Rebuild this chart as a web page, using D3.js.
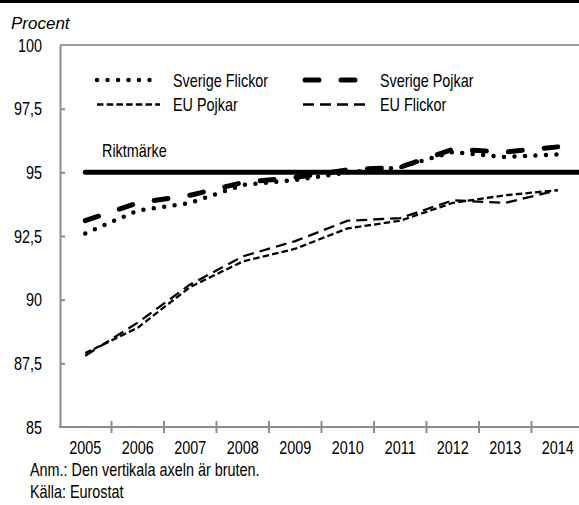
<!DOCTYPE html>
<html lang="sv">
<head>
<meta charset="UTF-8">
<title>Procent</title>
<script src="https://cdn.jsdelivr.net/npm/d3@7/dist/d3.min.js"></script>
<style>
  html, body { margin: 0; padding: 0; background: #fff; }
  svg { display: block; }
  text { font-family: "Liberation Sans", Arial, sans-serif; font-size: 18px; fill: #000; }
</style>
</head>
<body>
<div class="marco"></div>
<script>
// data
const years = [2005, 2006, 2007, 2008, 2009, 2010, 2011, 2012, 2013, 2014];
const sverigeFlickor = [92.6, 93.5, 93.8, 94.5, 94.7, 95.0, 95.2, 95.8, 95.6, 95.7];
const sverigePojkar  = [93.1, 93.8, 94.1, 94.6, 94.8, 95.1, 95.2, 95.9, 95.8, 96.0];
const euPojkar       = [87.9, 88.9, 90.5, 91.5, 92.0, 92.8, 93.1, 93.8, 94.1, 94.3];
const euFlickor      = [87.8, 89.1, 90.6, 91.7, 92.3, 93.1, 93.2, 93.9, 93.8, 94.3];
const riktmarke = 95;
const yTicks = [85, 87.5, 90, 92.5, 95, 97.5, 100];

var width = 579, height = 505,
    sx = 0.8; // condensed look, no narrow font installed

var svg = d3.select(".marco").append("svg")
    .attr("width", width)
    .attr("height", height);

var x = d3.scaleBand().domain(years).range([59, 584]).padding(0),
    y = d3.scaleLinear().domain([85, 100]).range([427, 45]);
var cx = d => x(d) + x.bandwidth() / 2;

var fmt = d3.formatLocale({ decimal: ",", thousands: " ", grouping: [3], currency: ["", " kr"] }).format("~f");

// narrow text helper
function texto(parent, px, py, str, anchor) {
    return parent.append("text")
        .attr("transform", `translate(${px},${py}) scale(${sx},1)`)
        .attr("text-anchor", anchor || "start")
        .text(str);
}

// black bar at top
svg.append("rect").attr("x", 0).attr("y", 0).attr("width", width).attr("height", 3).attr("fill", "#000");

// y label
svg.append("text")
    .attr("x", 11).attr("y", 29)
    .style("font-size", "17px")
    .style("font-style", "italic")
    .text("Procent");

// top frame line
svg.append("line")
    .attr("x1", 60).attr("x2", width)
    .attr("y1", y(100)).attr("y2", y(100))
    .attr("stroke", "#999").attr("stroke-width", 2);

// y axis
var yAxis = svg.append("g")
    .attr("transform", "translate(60,0)")
    .call(d3.axisLeft(y).tickValues(yTicks).tickFormat(fmt).tickSize(-5).tickSizeOuter(0).tickPadding(18));
yAxis.attr("font-family", null).attr("font-size", null);
yAxis.select(".domain").attr("stroke", "#8c8c8c").attr("stroke-width", 2);
yAxis.selectAll(".tick line").attr("stroke", "#8c8c8c").attr("stroke-width", 2)
    .filter(d => d === 100 || d === 85).remove();
yAxis.selectAll(".tick text")
    .attr("x", null).attr("dy", null)
    .attr("transform", `translate(-18,6) scale(${sx},1)`);

// x axis
var xAxis = svg.append("g");
xAxis.append("line")
    .attr("x1", 59).attr("x2", width)
    .attr("y1", y(85)).attr("y2", y(85))
    .attr("stroke", "#8c8c8c").attr("stroke-width", 2);
xAxis.selectAll(".xt").data(years.slice(1)).enter().append("line")
    .attr("class", "xt")
    .attr("x1", d => x(d)).attr("x2", d => x(d))
    .attr("y1", y(85) - 6).attr("y2", y(85) + 6)
    .attr("stroke", "#8c8c8c").attr("stroke-width", 2);
years.forEach(d => texto(xAxis, cx(d), 454, d, "middle"));

// riktmärke
svg.append("line")
    .attr("x1", cx(years[0])).attr("x2", x.range()[1])
    .attr("y1", y(riktmarke)).attr("y2", y(riktmarke))
    .attr("stroke", "#000").attr("stroke-width", 5).attr("stroke-linecap", "round");
texto(svg, 102, 157, "Riktmärke");

var series = [
    { name: "EU Pojkar", values: euPojkar, w: 2.3, dash: "6.5,3.2", cap: "butt" },
    { name: "EU Flickor", values: euFlickor, w: 2.3, dash: "11,6", cap: "butt" },
    { name: "Sverige Pojkar", values: sverigePojkar, w: 5, dash: "14,22", cap: "round" },
    { name: "Sverige Flickor", values: sverigeFlickor, w: 4.5, dash: "0,10.5", cap: "round" }
];

var line = d3.line()
    .x((d, i) => cx(years[i]))
    .y(d => y(d));

svg.selectAll(".serie").data(series).enter().append("path")
    .attr("class", "serie")
    .attr("d", d => line(d.values))
    .attr("fill", "none")
    .attr("stroke", "#000")
    .attr("stroke-width", d => d.w)
    .attr("stroke-dasharray", d => d.dash)
    .attr("stroke-linecap", d => d.cap);

// legend
var leyenda = [
    { s: series[3], x: 97, y: 80, len: 63, tx: 173 },
    { s: series[2], x: 305, y: 80, len: 51, tx: 380 },
    { s: series[0], x: 97, y: 104.5, len: 63, tx: 173 },
    { s: series[1], x: 303, y: 104.5, len: 62, tx: 380 }
];
leyenda.forEach(d => {
    svg.append("line")
        .attr("x1", d.x).attr("x2", d.x + d.len)
        .attr("y1", d.y).attr("y2", d.y)
        .attr("stroke", "#000")
        .attr("stroke-width", d.s.w)
        .attr("stroke-dasharray", d.s.dash)
        .attr("stroke-linecap", d.s.cap);
    texto(svg, d.tx, d.y + 6.5, d.s.name);
});

// notes
texto(svg, 30, 476, "Anm.: Den vertikala axeln är bruten.");
texto(svg, 30, 498, "Källa: Eurostat");
</script>
</body>
</html>
